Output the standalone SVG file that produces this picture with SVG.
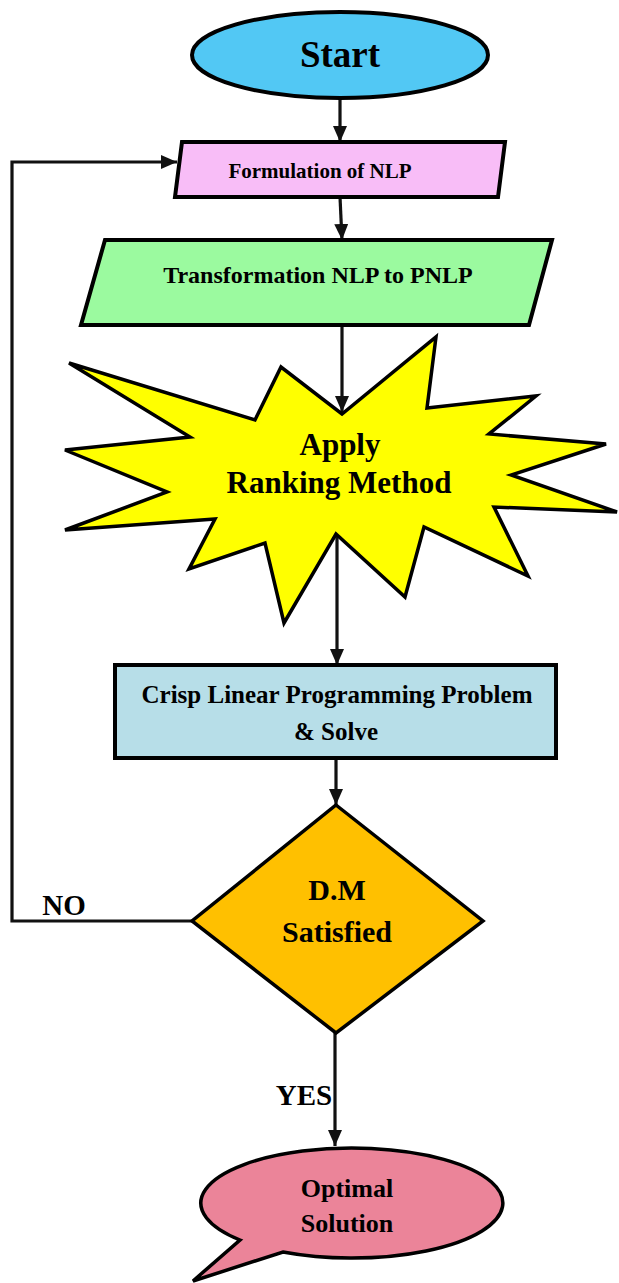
<svg xmlns="http://www.w3.org/2000/svg" width="619" height="1283" viewBox="0 0 619 1283">
  <style>
    .shape { stroke: #000; stroke-linejoin: miter; }
    .lbl { font-family: "Liberation Serif", "Times New Roman", serif; font-weight: bold; fill: #000; text-anchor: middle; }
    .conn { fill: none; stroke: #111; stroke-width: 3.2; }
  </style>
  <defs>
    <marker id="arrow" markerUnits="userSpaceOnUse" markerWidth="16" markerHeight="14" viewBox="0 0 16 14" refX="16" refY="7" orient="auto">
      <path d="M0,0 L16,7 L0,14 Z" fill="#111"/>
    </marker>
  </defs>

  <!-- connectors -->
  <g id="connectors">
    <line class="conn" x1="340" y1="98" x2="340" y2="142" marker-end="url(#arrow)"/>
    <line class="conn" x1="340" y1="197" x2="342" y2="240" marker-end="url(#arrow)"/>
    <line class="conn" x1="342" y1="325" x2="342" y2="412" marker-end="url(#arrow)"/>
    <line class="conn" x1="337" y1="534" x2="337" y2="665" marker-end="url(#arrow)"/>
    <line class="conn" x1="336" y1="758" x2="336" y2="805" marker-end="url(#arrow)"/>
    <line class="conn" x1="335" y1="1033" x2="335" y2="1146" marker-end="url(#arrow)"/>
    <polyline class="conn" points="192,921 12,921 12,162 177,162" marker-end="url(#arrow)"/>
    <text class="lbl" x="64" y="915" font-size="29">NO</text>
    <text class="lbl" x="304" y="1105" font-size="29">YES</text>
  </g>

  <!-- start terminal -->
  <g id="start">
    <ellipse class="shape" cx="340" cy="55" rx="148" ry="43" fill="#52C8F4" stroke-width="4"/>
    <text class="lbl" x="340" y="67" font-size="37">Start</text>
  </g>

  <!-- NLP formulation -->
  <g id="formulation">
    <polygon class="shape" points="182,142 505,142 498,197 175,197" fill="#F8BDF7" stroke-width="4"/>
    <text class="lbl" x="320" y="178" font-size="21">Formulation of NLP</text>
  </g>

  <!-- NLP to PNLP -->
  <g id="transformation">
    <polygon class="shape" points="105,240 552,240 529,325 81,325" fill="#9BFA9F" stroke-width="4"/>
    <text class="lbl" x="318" y="283" font-size="24">Transformation NLP to PNLP</text>
  </g>

  <!-- ranking method burst -->
  <g id="ranking">
    <polygon class="shape" fill="#FFFF00" stroke-width="3.5"
      points="69,363 190,437 65,450 167,492 65,530 215,519 189,569 265,543 284,623 336,534 405,597 424,527 528,576 494,507 617,512 511,475 606,444 489,434 536,396 427,408 436,337 342,414 281,367 255,420"/>
    <text class="lbl" x="340" y="455" font-size="31">Apply</text>
    <text class="lbl" x="339" y="493" font-size="31">Ranking Method</text>
  </g>

  <!-- crisp LPP -->
  <g id="crisp">
    <rect class="shape" x="115" y="665" width="441" height="93" fill="#B7DEE8" stroke-width="4"/>
    <text class="lbl" x="337" y="703" font-size="25">Crisp Linear Programming Problem</text>
    <text class="lbl" x="336" y="740" font-size="25">&amp; Solve</text>
  </g>

  <!-- decision -->
  <g id="decision">
    <polygon class="shape" points="336,805 483,921 336,1033 192,921" fill="#FFC000" stroke-width="3.5"/>
    <text class="lbl" x="337" y="900" font-size="30">D.M</text>
    <text class="lbl" x="337" y="942" font-size="30">Satisfied</text>
  </g>

  <!-- optimal solution callout -->
  <g id="optimal">
    <path class="shape" fill="#EB8499" stroke-width="3.5"
      d="M240,1240 A151,55 0 1 1 283,1252 L193,1281 Z"/>
    <text class="lbl" x="347" y="1197" font-size="26">Optimal</text>
    <text class="lbl" x="347" y="1232" font-size="26">Solution</text>
  </g>
</svg>
